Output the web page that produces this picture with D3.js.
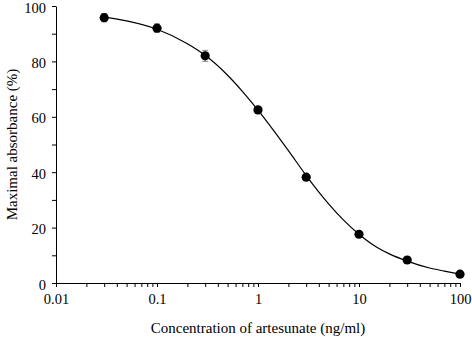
<!DOCTYPE html>
<html>
<head>
<meta charset="utf-8">
<script src="https://cdn.jsdelivr.net/npm/d3@7"></script>
<style>
  body { margin: 0; background: #fff; }
  text { font-family: "Liberation Serif", "Times New Roman", serif; fill: #000; }
</style>
</head>
<body>
<script>
const svgWidth = 472;
const svgHeight = 337;
const margin = { top: 6, right: 12, bottom: 54, left: 56 };

// measured points
const concentrations = [0.03, 0.1, 0.3, 1, 3, 10, 30, 100];
const absorbance = [95.8, 92.0, 82.0, 62.5, 38.2, 17.6, 8.3, 3.2];
const errors = [1.5, 1.5, 2.0, 1.0, 1.0, 0.8, 0.8, 0.8];

// fitted curve
const curveX = [0.03, 0.05, 0.1, 0.2, 0.3, 0.5, 0.7, 1, 1.5, 2, 3, 5, 7, 10, 15, 20, 30, 50, 70, 100];
const curveY = [96.0, 94.6, 91.6, 86.4, 82.2, 75.0, 69.2, 62.4, 54.0, 47.8, 38.8, 28.6, 22.8, 17.6, 12.9, 10.5, 7.9, 5.4, 4.3, 3.2];

const xTicks = [0.01, 0.1, 1, 10, 100];
const yTicks = [0, 20, 40, 60, 80, 100];

const width = svgWidth - margin.left - margin.right;
const height = svgHeight - margin.top - margin.bottom;

const svg = d3.select('body')
              .append('svg')
              .attr('width', svgWidth)
              .attr('height', svgHeight);

const g = svg.append('g')
             .attr('transform', `translate(${margin.left},${margin.top})`);

const x = d3.scaleLog().domain([0.01, 100]).range([0, width]);
const y = d3.scaleLinear().domain([0, 100]).range([height, 0]);

// minor ticks
const xMinor = [];
xTicks.slice(0, -1).forEach(t => { for (let k = 2; k <= 9; k++) xMinor.push(t * k); });
const yMinor = d3.range(10, 100, 20);

g.append('g')
 .attr('transform', `translate(0,${height})`)
 .call(d3.axisBottom(x).tickValues(xMinor).tickSize(4).tickFormat(''))
 .call(a => a.select('.domain').remove());

g.append('g')
 .call(d3.axisLeft(y).tickValues(yMinor).tickSize(4).tickFormat(''))
 .call(a => a.select('.domain').remove());

const xAxis = g.append('g')
 .attr('transform', `translate(0,${height})`)
 .call(d3.axisBottom(x).tickValues(xTicks).tickSize(4).tickSizeOuter(0).tickPadding(7).tickFormat(d => String(d)));

const yAxis = g.append('g')
 .call(d3.axisLeft(y).tickValues(yTicks).tickSize(4).tickSizeOuter(0).tickPadding(6));

[xAxis, yAxis].forEach(a => {
  a.selectAll('text').attr('font-size', 14.5).attr('fill', '#000');
  a.selectAll('line, path').attr('stroke', '#000');
});
yAxis.selectAll('text').attr('dy', '0.42em');
svg.selectAll('.tick line').attr('stroke', '#000');

// fitted curve
const line = d3.line()
               .x((d, i) => x(curveX[i]))
               .y(d => y(d))
               .curve(d3.curveMonotoneX);

g.append('path')
 .datum(curveY)
 .attr('d', line)
 .attr('fill', 'none')
 .attr('stroke', '#000')
 .attr('stroke-width', 1.2);

// error bars
const eb = g.selectAll('.eb')
            .data(concentrations)
            .enter()
            .append('g')
            .attr('class', 'eb')
            .attr('stroke', '#8c8c8c')
            .attr('stroke-width', 1);

eb.append('line')
  .attr('x1', d => x(d)).attr('x2', d => x(d))
  .attr('y1', (d, i) => y(absorbance[i] + errors[i]))
  .attr('y2', (d, i) => y(absorbance[i] - errors[i]));
eb.append('line')
  .attr('x1', d => x(d) - 3).attr('x2', d => x(d) + 3)
  .attr('y1', (d, i) => y(absorbance[i] + errors[i]))
  .attr('y2', (d, i) => y(absorbance[i] + errors[i]));
eb.append('line')
  .attr('x1', d => x(d) - 3).attr('x2', d => x(d) + 3)
  .attr('y1', (d, i) => y(absorbance[i] - errors[i]))
  .attr('y2', (d, i) => y(absorbance[i] - errors[i]));

// points
g.selectAll('circle')
 .data(concentrations)
 .enter()
 .append('circle')
 .attr('cx', d => x(d))
 .attr('cy', (d, i) => y(absorbance[i]))
 .attr('r', 4.6)
 .attr('fill', '#000');

// axis titles
svg.append('text')
   .attr('x', margin.left + width / 2)
   .attr('y', 333)
   .attr('text-anchor', 'middle')
   .attr('font-size', 15)
   .text('Concentration of artesunate (ng/ml)');

svg.append('text')
   .attr('transform', `translate(17,${margin.top + height / 2}) rotate(-90)`)
   .attr('text-anchor', 'middle')
   .attr('font-size', 15)
   .text('Maximal absorbance (%)');
</script>
</body>
</html>
